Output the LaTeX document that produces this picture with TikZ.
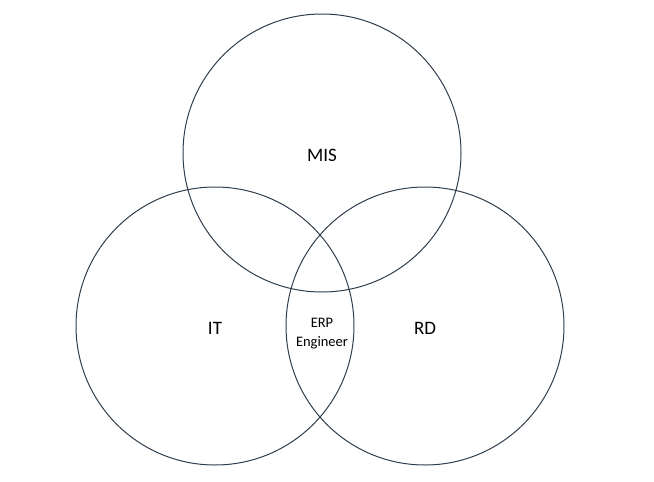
\documentclass[tikz,border=0pt]{standalone}
\usepackage{fontspec}
\setmainfont{Carlito}
\definecolor{ringcol}{HTML}{2F3E4C}
\begin{document}
\begin{tikzpicture}[x=1pt,y=-1pt,
  ring/.style={circle,draw=ringcol,line width=1pt,minimum size=278pt,inner sep=0pt},
  biglabel/.style={font=\fontsize{19}{22}\selectfont,text=black},
  smalllabel/.style={font=\fontsize{14.5}{19}\selectfont,align=center,text=black}]
\useasboundingbox (0,0) rectangle (654,482);
\node[ring] (mis) at (322,153) {};
\node[ring] (it) at (215,326) {};
\node[ring] (rd) at (425,326) {};
\node[biglabel] (mist) at (322,155) {MIS};
\node[biglabel] (itt) at (215,328) {IT};
\node[biglabel] (rdt) at (425,328) {RD};
\node[smalllabel] (erp) at (322,334) {ERP\\Engineer};
\end{tikzpicture}
\end{document}
